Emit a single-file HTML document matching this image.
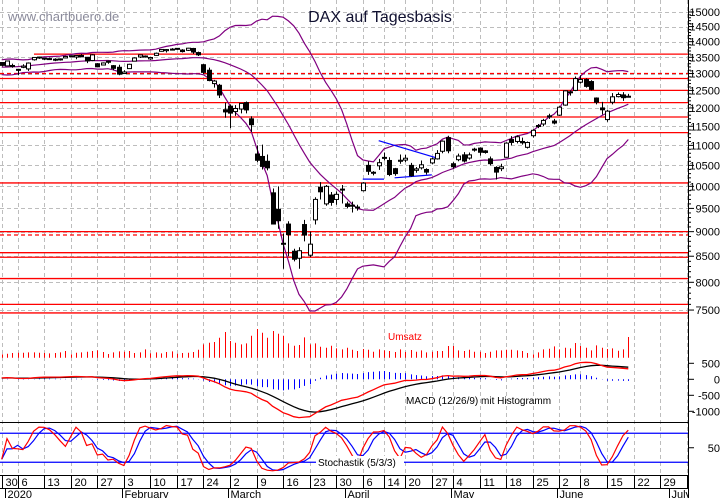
<!DOCTYPE html>
<html><head><meta charset="utf-8"><style>
html,body{margin:0;padding:0;background:#fff;}
svg{display:block;font-family:"Liberation Sans",Arial,sans-serif;}
</style></head><body>
<svg id="chart" width="723" height="498" viewBox="0 0 723 498" xmlns="http://www.w3.org/2000/svg"></svg>
<script>
// ---- data (Dec 30 2019 .. Jun 19 2020) ----
const warmCloses = [12960,13136,13156,13179,13289,13228,13198,13283,13230,13216,13207,13242,13241,13221,13137,13164,13190,13245,13287,13236,13142,12965,12989,13140,13055,13166,13105,13071,13141,13222,13283,13407,13288,13222,13212,13319,13300,13337];
const opens = [13337,
13233,13246,
13100,13189,13140,13423,13508,
13473,13460,13440,13450,13480,
13520,13510,13560,13500,13400,
13300,13260,13380,13240,13190,
13000,13150,13380,13510,13540,
13450,13560,13690,13710,13760,
13770,13730,13720,13780,13650,
13270,13100,12700,12650,11950,
12050,11900,11970,12150,11700,
10780,10720,10600,9850,9480,
8760,9160,8600,8460,9150,
8520,9250,9980,9600,9800,
9700,9920,9600,9560,9530,
9900,10500,10320,10490,
10680,10620,10420,10600,
10630,10500,10380,10440,10400,
10560,10660,10850,11200,
10540,10640,10760,10680,10880,
10930,10860,10660,10450,10420,
10700,11150,11100,11100,10950,
11250,11520,11560,11780,11640,
11800,12080,12460,12500,
12740,12820,12760,12280,12000,
11680,12160,12320,12370,12330];
const highs = [13337,
13386,13304,
13140,13283,13341,13500,13526,
13480,13486,13470,13465,13550,
13560,13560,13600,13510,13600,
13320,13340,13400,13260,13270,
13100,13300,13500,13580,13560,
13510,13650,13750,13760,13790,
13790,13760,13800,13800,13680,
13290,13180,12810,12690,12150,
12100,12080,12130,12180,11770,
11000,11020,10770,9950,10000,
8960,9220,8650,8680,9250,
9000,9750,10100,10030,9870,
9880,10030,9650,9650,9580,
10100,10600,10360,10660,
10820,10700,10440,10770,
10760,10560,10460,10620,10430,
10690,10880,11130,11250,
10580,10790,10830,10820,10940,
10950,10880,10720,10480,10540,
11080,11240,11260,11200,11100,
11420,11560,11700,11840,11700,
12050,12500,12500,12910,
12950,12860,12800,12300,12170,
11950,12420,12440,12450,12400];
const lows = [13218,
13233,13175,
12948,13166,13082,13395,13450,
13410,13417,13382,13395,13470,
13510,13440,13510,13320,13380,
13190,13250,13300,13100,12950,
12990,13140,13370,13480,13490,
13420,13550,13680,13650,13720,
13740,13650,13700,13610,13540,
12990,12770,12580,12280,11730,
11450,11780,11850,11850,11350,
10580,10400,10380,9160,9060,
8255,8500,8400,8255,8800,
8480,9150,9700,9560,9560,
9580,9610,9500,9410,9450,
9880,10270,10260,10390,
10620,10240,10250,10540,
10580,10230,10320,10400,10280,
10530,10640,10800,10800,
10420,10600,10570,10640,10840,
10740,10790,10500,10160,10360,
10690,11000,11050,11020,10920,
11200,11450,11500,11700,11550,
11780,12060,12350,12480,
12700,12580,12500,12100,11820,
11620,12100,12300,12200,12300];
const closes = [13249,
13385,13219,
13127,13227,13321,13495,13483,
13452,13456,13432,13429,13526,
13549,13556,13515,13388,13577,
13205,13324,13345,13158,12982,
13046,13282,13479,13575,13514,
13494,13628,13749,13745,13744,
13784,13681,13789,13665,13579,
13035,12790,12775,12367,11890,
11857,11985,12128,11945,11542,
10625,10475,10439,9161,9232,
8742,8939,8441,8610,8929,
8742,9701,9874,10000,9633,
9816,9936,9544,9571,9526,
10075,10356,10333,10565,
10697,10280,10301,10626,
10676,10250,10415,10514,10336,
10660,10796,11108,10862,
10467,10730,10607,10760,10904,
10825,10820,10542,10337,10465,
11058,11075,11223,11066,11074,
11392,11504,11657,11781,11587,
12021,12487,12431,12848,
12820,12617,12530,12160,11949,
11911,12315,12382,12290,12331];
const volumes = [10,
12,14,
15,15,16,16,15,
14,13,14,16,20,
10,15,16,18,20,
22,17,11,16,19,
18,20,14,16,25,
13,16,13,17,19,
12,14,15,17,24,
40,45,47,60,77,
50,45,40,43,66,
86,75,60,80,72,
66,43,36,38,61,
40,43,33,30,36,
28,25,30,24,20,
26,24,18,25,
22,20,17,25,
17,23,18,22,16,
18,20,20,35,
35,22,20,24,18,
18,14,18,22,22,
24,24,22,20,14,
10,16,25,27,34,
25,30,28,44,
35,30,22,37,30,
26,28,21,25,62];
const firstIdx = -1;
const priceTicks = [7500,8000,8500,9000,9500,10000,10500,11000,11500,12000,12500,13000,13500,14000,14500,15000];
const macdTicks = [500,0,-500,-1000];
const stochTicks = [50];
const weekLabels = ["30","6","13","20","27","3","10","17","24","2","9","16","23","30","6","14","20","27","4","11","18","25","2","8","15","22","29","6"];
const weekIdx = [-1,2,7,12,17,22,27,32,37,42,47,52,57,62,67,71,75,80,84,89,94,99,104,108,113,118,123,128];
const monthLabels = ["2020","February","March","April","May","June","July"];
const monthIdx = [0,22,42,64,84,104,125];
const levelsSolid = [13600,12850,12500,12150,11750,11330,10080,9000,8570,8480,8070,7600,7450];
const levelsDashed = [13000,8930];
const triUpper = [[70,11120],[81,10680]];
const triLower = [[67,10170],[71,10170]];
const triLower2 = [[73,10200],[80,10270]];

// ---- scales ----
const X0 = 7, DX = 5.31, AXIS_X = 688;
const xIdx = i => X0 + i * DX;
const xAt = k => xIdx(firstIdx + k);
const yP = v => 12 + Math.log(15000 / v) * 430;
const VOL_BASE = 357.7;
const yV = v => VOL_BASE - v / 3;
const yM = v => 379.3 - v * 0.032;
const yS = v => 471.9 - v * 0.483;

const svg = document.getElementById('chart');
const NS = 'http://www.w3.org/2000/svg';
function mk(tag, attrs, parent) {
  const el = document.createElementNS(NS, tag);
  for (const k in attrs) el.setAttribute(k, attrs[k]);
  (parent || svg).appendChild(el);
  return el;
}
function txt(s, attrs, parent) { const t = mk('text', attrs, parent); t.textContent = s; return t; }

const defs = mk('defs', {});
const cp = mk('clipPath', {id: 'pclip'}, defs);
mk('rect', {x: 0, y: 0, width: AXIS_X, height: 318}, cp);

// ---- grid ----
const grid = mk('g', {stroke: '#bdbdbd', 'stroke-width': 1, 'stroke-dasharray': '4,3'});


priceTicks.forEach(v => {
  const l = mk('line', {x1: 0, x2: AXIS_X, y1: Math.round(yP(v)) + 0.5, y2: Math.round(yP(v)) + 0.5}, grid);
  
  
});
weekIdx.forEach(i => {
  const x = Math.round(xIdx(i)) + 0.5;
  if (x > AXIS_X) return;
  const l = mk('line', {x1: x, x2: x, y1: 0, y2: 475}, grid);
  
  
});

const wm = txt('www.chartbuero.de', {x: 8, y: 21, 'font-size': 13, fill: '#8a8a9a'});


const title = txt('DAX auf Tagesbasis', {x: 380, y: 22, 'font-size': 16, fill: '#101030', 'text-anchor': 'middle'});



// ---- price panel ----
const pg = mk('g', {'clip-path': 'url(#pclip)'});



levelsSolid.forEach((v, i) => {
  const l = mk('line', {x1: i === 0 ? 34 : 0, x2: AXIS_X, y1: yP(v), y2: yP(v), stroke: '#ff0000', 'stroke-width': 1.3}, pg);
  
  
});
levelsDashed.forEach(v => {
  const l = mk('line', {x1: 0, x2: AXIS_X, y1: yP(v), y2: yP(v), stroke: '#ff0000', 'stroke-width': 1.3, 'stroke-dasharray': '4,3'}, pg);
  
  
});

const allCloses = warmCloses.concat(closes);
const W = warmCloses.length;
const up = [], mid = [], lo = [];
for (let k = 0; k < closes.length; k++) {
  const e = W + k;
  const win = allCloses.slice(Math.max(0, e - 19), e + 1);
  const m = win.reduce((a, b) => a + b, 0) / win.length;
  const sd = Math.sqrt(win.reduce((a, b) => a + (b - m) * (b - m), 0) / win.length);
  mid.push(m); up.push(m + 2 * sd); lo.push(m - 2 * sd);
}
[['bollinger-upper', up], ['bollinger-middle', mid], ['bollinger-lower', lo]].forEach(([n, arr]) => {
  const d = arr.map((v, k) => (k ? 'L' : 'M') + xAt(k).toFixed(1) + ',' + yP(v).toFixed(1)).join('');
  const p = mk('path', {d: d, fill: 'none', stroke: '#800080', 'stroke-width': 1.2}, pg);
  
  
});

[['triangle-upper', triUpper], ['triangle-lower', triLower], ['triangle-lower-2', triLower2]].forEach(([n, pts]) => {
  const l = mk('line', {x1: xIdx(pts[0][0]), y1: yP(pts[0][1]), x2: xIdx(pts[1][0]), y2: yP(pts[1][1]), stroke: '#0000ff', 'stroke-width': 1.2}, pg);
  
  
});

closes.forEach((c, k) => {
  const x = Math.round(xAt(k)) + 0.5;
  const o = opens[k], h = highs[k], l = lows[k];
  const g = mk('g', {}, pg);
  
  
  const w = mk('line', {x1: x, x2: x, y1: yP(h), y2: yP(l), stroke: '#000', 'stroke-width': 1}, g);
  
  
  const top = yP(Math.max(o, c)), bot = yP(Math.min(o, c));
  const b = mk('rect', {x: x - 2, y: top, width: 4, height: Math.max(1, bot - top), fill: c >= o ? '#fff' : '#000', stroke: '#000', 'stroke-width': 1}, g);
  
  
});

// ---- volume ----
const vg = mk('g', {});


volumes.forEach((v, k) => {
  const x = Math.round(xAt(k)) + 0.5;
  if (x < 0) return;
  const l = mk('line', {x1: x, x2: x, y1: VOL_BASE, y2: yV(v), stroke: '#ff0000', 'stroke-width': 1}, vg);
  
  
});
const um = txt('Umsatz', {x: 388, y: 340, 'font-size': 10, fill: '#ff0000'});



// ---- MACD ----
function ema(arr, n) { const a = 2 / (n + 1); const out = [arr[0]]; for (let i = 1; i < arr.length; i++) out.push(arr[i] * a + out[i - 1] * (1 - a)); return out; }
const e12 = ema(allCloses, 12), e26 = ema(allCloses, 26);
const macdAll = e12.map((v, i) => v - e26[i]);
const sigAll = ema(macdAll, 9);
const macd = macdAll.slice(W), sig = sigAll.slice(W);
const mg = mk('g', {});


macd.forEach((m, k) => {
  const x = Math.round(xAt(k)) + 0.5;
  const l = mk('line', {x1: x, x2: x, y1: yM(0), y2: yM(m - sig[k]), stroke: '#0000ff', 'stroke-width': 1}, mg);
  
  
});
[['macd-signal-line', sig, '#000'], ['macd-line', macd, '#ff0000']].forEach(([n, arr, col]) => {
  const d = arr.map((v, k) => (k ? 'L' : 'M') + xAt(k).toFixed(1) + ',' + yM(v).toFixed(1)).join('');
  const p = mk('path', {d: d, fill: 'none', stroke: col, 'stroke-width': 1.3}, mg);
  
  
});
const ml = txt('MACD (12/26/9) mit Histogramm', {x: 406, y: 404, 'font-size': 10, fill: '#000'});



// ---- Stochastic ----
const rawK = closes.map((c, k) => {
  const s = Math.max(0, k - 4);
  const hh = Math.max(...highs.slice(s, k + 1)), ll = Math.min(...lows.slice(s, k + 1));
  return { c: c - ll, r: hh - ll };
});
const kS = rawK.map((_, k) => { let a = 0, b = 0; for (let j = Math.max(0, k - 2); j <= k; j++) { a += rawK[j].c; b += rawK[j].r; } return b ? 100 * a / b : 50; });
const dS = kS.map((_, k) => { const w = kS.slice(Math.max(0, k - 2), k + 1); return w.reduce((a, b) => a + b, 0) / w.length; });
const sg = mk('g', {});


[80, 20].forEach(v => {
  const l = mk('line', {x1: 0, x2: AXIS_X, y1: yS(v), y2: yS(v), stroke: '#0000ff', 'stroke-width': 1.2}, sg);
  
  
});
[['stochastic-d-line', dS, '#0000ff'], ['stochastic-k-line', kS, '#ff0000']].forEach(([n, arr, col]) => {
  const d = arr.map((v, k) => (k ? 'L' : 'M') + xAt(k).toFixed(1) + ',' + yS(v).toFixed(1)).join('');
  const p = mk('path', {d: d, fill: 'none', stroke: col, 'stroke-width': 1.2}, sg);
  
  
});
const sbg = mk('rect', {x: 316, y: 456, width: 88, height: 12, fill: '#fff'}, sg);


const sl = txt('Stochastik (5/3/3)', {x: 318, y: 466, 'font-size': 10, fill: '#000'}, sg);



// ---- separators & axes ----
[[422.5], [475.5], [488.5]].forEach(([y]) => {
  const l = mk('line', {x1: 0, x2: AXIS_X, y1: y, y2: y, stroke: '#000', 'stroke-width': 1});
  
  
});
const ax = mk('line', {x1: AXIS_X + 0.5, x2: AXIS_X + 0.5, y1: 0, y2: 498, stroke: '#000', 'stroke-width': 1});



for (let v = 7500; v <= 15000; v += 100) {
  const y = yP(v); const major = v % 500 === 0;
  const t = mk('line', {x1: AXIS_X, x2: AXIS_X + (major ? 6 : 3), y1: y, y2: y, stroke: '#000', 'stroke-width': 1});
  
  
}
priceTicks.forEach(v => {
  const t = txt(String(v), {x: 720, y: yP(v) + 4, 'font-size': 11, 'text-anchor': 'end', fill: '#000'});
  
  
});
macdTicks.forEach(v => {
  const tk = mk('line', {x1: AXIS_X, x2: AXIS_X + 6, y1: yM(v), y2: yM(v), stroke: '#000'});
  
  
  const t = txt(String(v), {x: 720, y: yM(v) + 4, 'font-size': 11, 'text-anchor': 'end', fill: '#000'});
  
  
});
stochTicks.forEach(v => {
  const tk = mk('line', {x1: AXIS_X, x2: AXIS_X + 6, y1: yS(v), y2: yS(v), stroke: '#000'});
  
  
  const t = txt(String(v), {x: 720, y: yS(v) + 4, 'font-size': 11, 'text-anchor': 'end', fill: '#000'});
  
  
});

weekLabels.forEach((s, i) => {
  const x = Math.round(xIdx(weekIdx[i])) + 0.5;
  if (x > AXIS_X + 4) return;
  const l = mk('line', {x1: x, x2: x, y1: 475, y2: 488, stroke: '#000'});
  
  
  const t = txt(s, {x: x + 3, y: 486, 'font-size': 11, fill: '#000'});
  
  
});
monthLabels.forEach((s, i) => {
  const x = Math.round(xIdx(monthIdx[i]) - 2) + 0.5;
  const l = mk('line', {x1: x, x2: x, y1: 488, y2: 498, stroke: '#000'});
  
  
  const t = txt(s, {x: x + 2, y: 498, 'font-size': 11, fill: '#000'});
  
  
});
const mask = mk('rect', {x: AXIS_X + 1, y: 476, width: 35, height: 22, fill: '#fff'});


</script>
</body></html>
